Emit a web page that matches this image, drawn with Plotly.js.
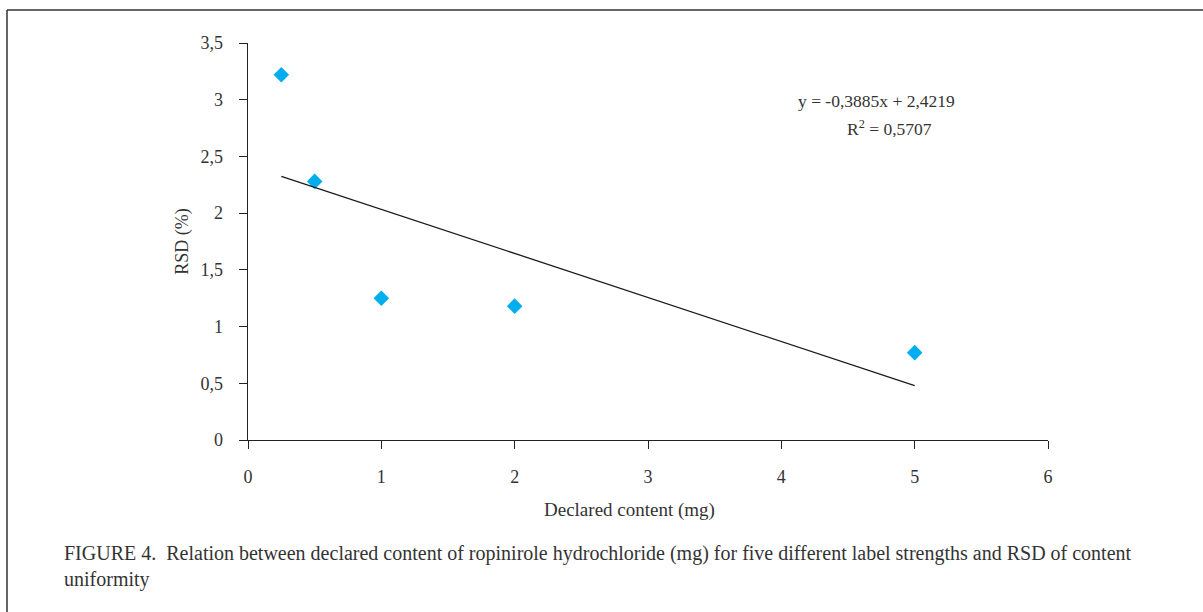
<!DOCTYPE html>
<html>
<head>
<meta charset="utf-8">
<script src="https://cdn.plot.ly/plotly-3.0.1.min.js"></script>
<style>
html,body{margin:0;padding:0;background:#fff;}
#chart{width:1203px;height:612px;}
</style>
</head>
<body>
<div id="chart"></div>
<script>
// Data
const declaredContent = [0.25, 0.5, 1, 2, 5];
const rsdValues = [3.22, 2.28, 1.25, 1.18, 0.77];
// Linear trendline reported in the figure: y = -0,3885x + 2,4219
const trendSlope = -0.3885;
const trendIntercept = 2.4219;
const trendX = [0.25, 5];
const trendY = trendX.map(x => trendSlope * x + trendIntercept);
const yTickVals = [0, 0.5, 1, 1.5, 2, 2.5, 3, 3.5];
const xTickVals = [0, 1, 2, 3, 4, 5, 6];
const equationText = 'y = -0,3885x + 2,4219';
const r2Text = 'R<sup>2</sup> = 0,5707';
const captionText = 'FIGURE 4.  Relation between declared content of ropinirole hydrochloride (mg) for five different label strengths and RSD of content<br>uniformity';

const FONT = '"Liberation Serif", "DejaVu Serif", serif';
const TXT = '#333333';

const traces = [
  {
    x: declaredContent, y: rsdValues, type: 'scatter', mode: 'markers',
    marker: {symbol: 'diamond', size: 12, color: '#00AEEF'},
    showlegend: false, hoverinfo: 'x+y'
  },
  {
    x: trendX, y: trendY, type: 'scatter', mode: 'lines',
    line: {color: '#1a1a1a', width: 1.3},
    showlegend: false, hoverinfo: 'skip'
  }
];

const L = 248, R = 155, T = 43, B = 172;
const PW = 1203 - L - R, PH = 612 - T - B;
const px = v => (v - L) / PW;
const py = v => (612 - B - v) / PH;

const layout = {
  width: 1203, height: 612,
  margin: {l: L, r: R, t: T, b: B, pad: 0},
  paper_bgcolor: '#fff', plot_bgcolor: '#fff',
  separators: ', ',
  font: {family: FONT, color: TXT, size: 17},
  xaxis: {
    range: [0, 6], tickvals: xTickVals, ticks: 'outside', ticklen: 8, tickcolor: '#222',
    showline: true, linecolor: '#222', linewidth: 1.3, showgrid: false, zeroline: false,
    tickfont: {family: FONT, size: 18, color: TXT}, ticklabelstandoff: 12,
    fixedrange: true
  },
  yaxis: {
    range: [0, 3.5], tickvals: yTickVals, ticks: 'outside', ticklen: 8, tickcolor: '#222',
    showline: true, linecolor: '#222', linewidth: 1.3, showgrid: false, zeroline: false,
    tickfont: {family: FONT, size: 18, color: TXT}, ticklabelstandoff: 12,
    title: {text: 'RSD (%)', font: {family: FONT, size: 18, color: TXT}, standoff: 7},
    fixedrange: true
  },
  annotations: [
    {xref: 'paper', yref: 'paper', x: px(629), y: py(510), text: 'Declared content (mg)',
     showarrow: false, xanchor: 'center', yanchor: 'middle', font: {family: FONT, size: 19, color: TXT}},
    {xref: 'paper', yref: 'paper', x: px(876), y: py(101), text: equationText,
     showarrow: false, xanchor: 'center', yanchor: 'middle', font: {family: FONT, size: 17.5, color: TXT}},
    {xref: 'paper', yref: 'paper', x: px(889), y: py(128), text: r2Text,
     showarrow: false, xanchor: 'center', yanchor: 'middle', font: {family: FONT, size: 17.5, color: TXT}},
    {xref: 'paper', yref: 'paper', x: px(62), y: py(540), text: captionText,
     showarrow: false, xanchor: 'left', yanchor: 'top', align: 'left',
     font: {family: FONT, size: 20, color: TXT}}
  ],
  shapes: [
    {type: 'line', xref: 'paper', yref: 'paper', x0: px(7), x1: px(7), y0: py(10), y1: py(612),
     line: {color: '#333', width: 1.5}},
    {type: 'line', xref: 'paper', yref: 'paper', x0: px(7), x1: px(1203), y0: py(10), y1: py(10),
     line: {color: '#333', width: 1.5}}
  ]
};

Plotly.newPlot('chart', traces, layout, {displayModeBar: false, staticPlot: true});
</script>
</body>
</html>
